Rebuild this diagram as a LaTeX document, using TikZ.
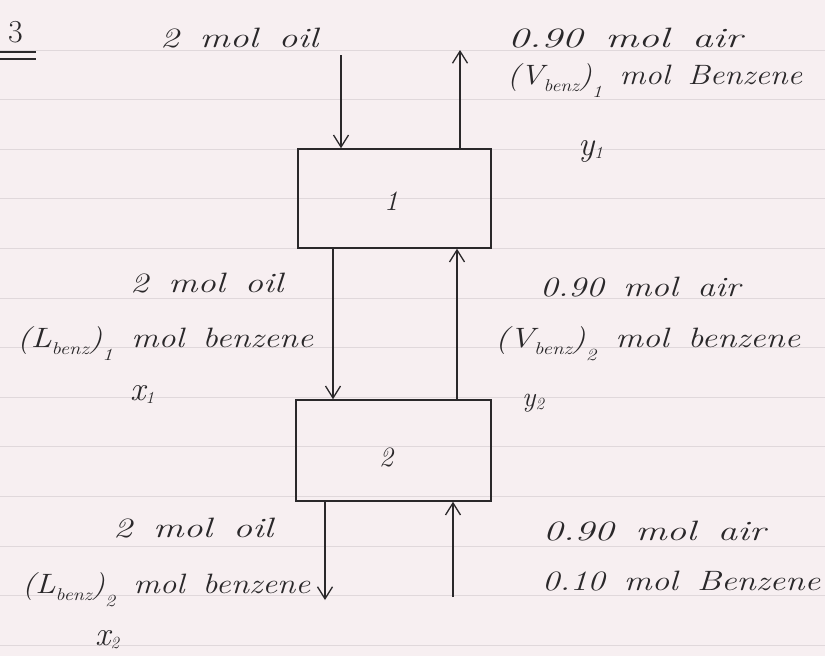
\documentclass[tikz,border=0pt]{standalone}
\usetikzlibrary{arrows.meta}
\definecolor{paper}{RGB}{247,239,241}
\definecolor{ruling}{RGB}{224,216,219}
\definecolor{ink}{RGB}{42,40,42}
% stretch a line of text to a given width, keeping its height; wide word gaps
\newcommand{\fitw}[2]{\resizebox{#1}{\height}{\spaceskip=0.55em\relax #2}}
% lowered small index
\newcommand{\lowidx}[2][-7pt]{\raisebox{#1}{\fontsize{17}{20}\selectfont #2}}
\begin{document}
\begin{tikzpicture}[x=1pt,y=-1pt,
  hand/.style={font=\fontsize{28}{34}\selectfont\itshape,
               text=ink, inner sep=0pt, anchor=base west},
  frac/.style={hand, font=\fontsize{34}{40}\selectfont\itshape},
  unit/.style={draw=ink, line width=1.5pt, inner sep=0pt, fill=none},
  flow/.style={draw=ink, line width=1.5pt,
               -{Straight Barb[length=12pt,width=15pt,line width=1.3pt]}}]

% paper and its ruling
\useasboundingbox (0,0) rectangle (825,656);
\fill[paper] (0,0) rectangle (825,656);
\foreach \k in {0,...,12}
  \draw[ruling, line width=0.8pt] (0,{50+49.6*\k}) -- (825,{50+49.6*\k});

% problem number
\node[hand, font=\fontsize{32}{38}\selectfont] (num) at (8,42) {3};
\draw[ink, line width=1.4pt] (0,52) -- (36,52);
\draw[ink, line width=1.4pt] (0,59) -- (36,59);

% the two stages
\node[unit, minimum width=193pt, minimum height=99pt] (b1) at (394.5,198.5) {};
\node[unit, minimum width=195pt, minimum height=101pt] (b2) at (393.5,450.5) {};
\node[hand, anchor=center] (n1) at (391,201) {1};
\node[hand, anchor=center] (n2) at (386,457) {2};

% free ends of the streams
\coordinate (oilin)  at (341,55);
\coordinate (gasout) at (460,50);
\coordinate (oilout) at (325,600);
\coordinate (gasin)  at (453,597);

% streams
\draw[flow] (oilin) -- ([xshift=-53.5pt]b1.north);
\draw[flow] ([xshift=65.5pt]b1.north) -- (gasout);
\draw[flow] ([xshift=-61.5pt]b1.south) -- ([xshift=-60.5pt]b2.north);
\draw[flow] ([xshift=63.5pt]b2.north) -- ([xshift=62.5pt]b1.south);
\draw[flow] ([xshift=-68.5pt]b2.south) -- (oilout);
\draw[flow] (gasin) -- ([xshift=59.5pt]b2.south);

% stream labels, top
\node[hand] (oil0) at (160,47) {\fitw{158pt}{2 mol oil}};
\node[hand] (air1) at (508,47) {\fitw{234pt}{0.90 mol air}};
\node[hand] (ben1) at (507,84) {\fitw{295pt}{(V\lowidx{benz})\lowidx[-13pt]{1} mol Benzene}};
\node[frac] (y1) at (578,155) {y\lowidx[-3pt]{1}};

% stream labels, between the stages
\node[hand] (oil1) at (130,292) {\fitw{153pt}{2 mol oil}};
\node[hand] (liq1) at (17,347) {\fitw{296pt}{(L\lowidx{benz})\lowidx[-13pt]{1} mol benzene}};
\node[frac] (x1) at (130,400) {x\lowidx[-3pt]{1}};
\node[hand] (air2) at (540,296) {\fitw{200pt}{0.90 mol air}};
\node[hand] (ben2) at (495,347) {\fitw{305pt}{(V\lowidx{benz})\lowidx[-13pt]{2} mol benzene}};
\node[hand] (y2) at (522,406) {y\lowidx[-3pt]{2}};

% stream labels, bottom
\node[hand] (oil2) at (113,537) {\fitw{160pt}{2 mol oil}};
\node[hand] (liq2) at (22,593) {\fitw{288pt}{(L\lowidx{benz})\lowidx[-13pt]{2} mol benzene}};
\node[frac] (x2) at (95,645) {x\lowidx[-3pt]{2}};
\node[hand] (air3) at (543,540) {\fitw{222pt}{0.90 mol air}};
\node[hand] (ben3) at (542,590) {\fitw{278pt}{0.10 mol Benzene}};
\end{tikzpicture}
\end{document}
